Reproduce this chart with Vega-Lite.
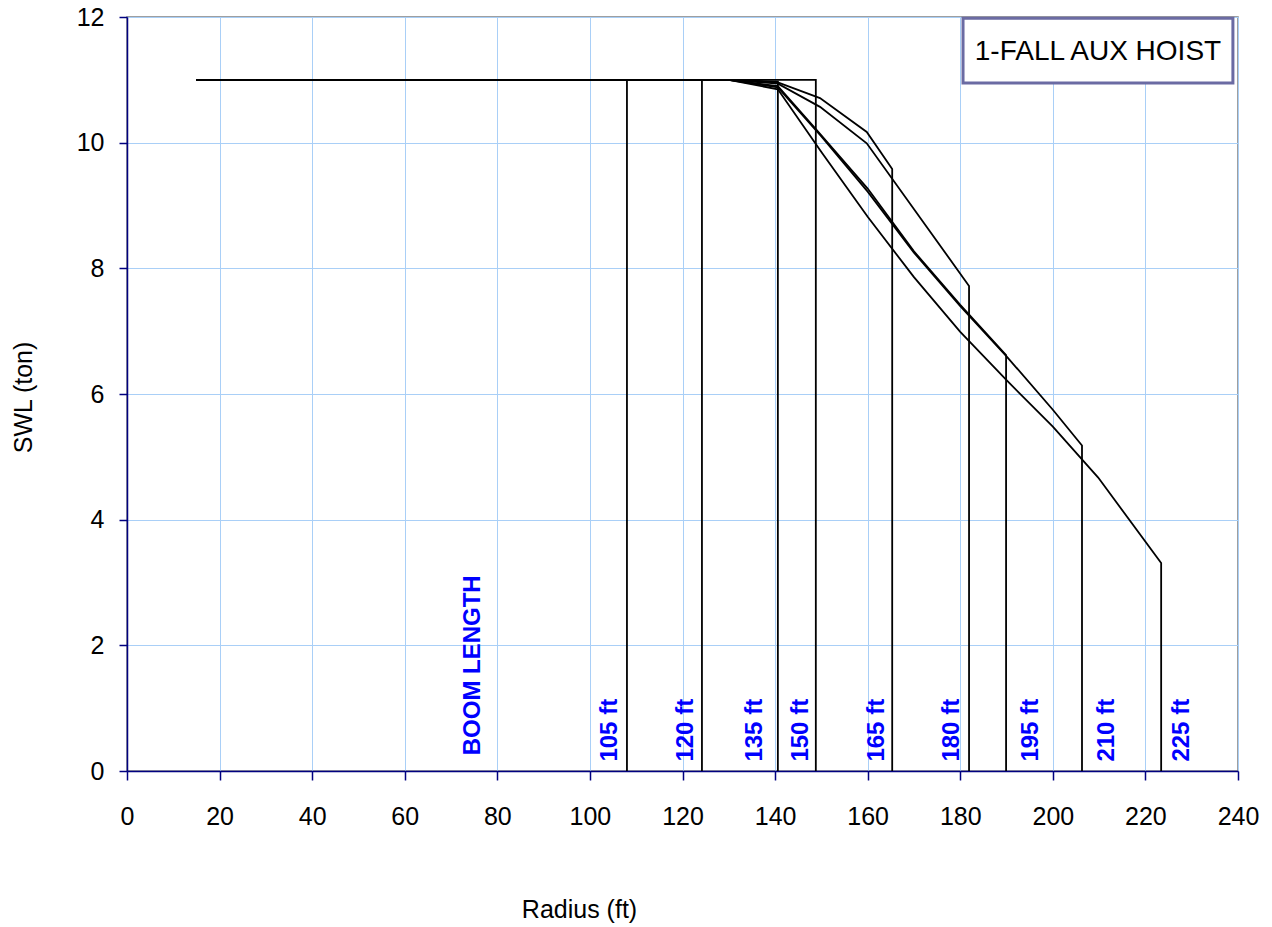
{
  "$schema": "https://vega.github.io/schema/vega-lite/v6.json",
  "autosize": {"type": "none"},
  "width": 1111,
  "height": 754,
  "padding": {"left": 127, "top": 17, "right": 34, "bottom": 156},
  "background": "white",
  "config": {
    "font": "Liberation Sans",
    "view": {"stroke": "#808080", "strokeWidth": 1.5},
    "axis": {
      "domainColor": "#000080",
      "domainWidth": 1.5,
      "tickColor": "#000080",
      "tickWidth": 1.5,
      "gridColor": "#a9cff7",
      "gridWidth": 1,
      "labelFont": "Liberation Sans",
      "labelFontSize": 25,
      "labelColor": "#000000",
      "titleFont": "Liberation Sans",
      "titleFontSize": 25,
      "titleFontWeight": "normal",
      "titleColor": "#000000",
      "labelOverlap": false,
      "labelFlush": false
    }
  },
  "datasets": {
    "curves": [
      {"b": "105", "i": 0, "x": 15, "y": 11}, {"b": "105", "i": 1, "x": 108, "y": 11}, {"b": "105", "i": 2, "x": 108, "y": 0},
      {"b": "120", "i": 0, "x": 15, "y": 11}, {"b": "120", "i": 1, "x": 124.2, "y": 11}, {"b": "120", "i": 2, "x": 124.2, "y": 0},
      {"b": "135", "i": 0, "x": 15, "y": 11}, {"b": "135", "i": 1, "x": 130, "y": 11}, {"b": "135", "i": 2, "x": 140.6, "y": 10.97}, {"b": "135", "i": 3, "x": 140.6, "y": 0},
      {"b": "150", "i": 0, "x": 15, "y": 11}, {"b": "150", "i": 1, "x": 148.8, "y": 11}, {"b": "150", "i": 2, "x": 148.8, "y": 0},
      {"b": "165", "i": 0, "x": 15, "y": 11}, {"b": "165", "i": 1, "x": 130, "y": 11}, {"b": "165", "i": 2, "x": 140.6, "y": 10.96}, {"b": "165", "i": 3, "x": 149.7, "y": 10.71}, {"b": "165", "i": 4, "x": 159.8, "y": 10.17}, {"b": "165", "i": 5, "x": 165.3, "y": 9.58}, {"b": "165", "i": 6, "x": 165.3, "y": 0},
      {"b": "180", "i": 0, "x": 15, "y": 11}, {"b": "180", "i": 1, "x": 130, "y": 11}, {"b": "180", "i": 2, "x": 140.6, "y": 10.94}, {"b": "180", "i": 3, "x": 149.7, "y": 10.57}, {"b": "180", "i": 4, "x": 159.8, "y": 9.99}, {"b": "180", "i": 5, "x": 181.9, "y": 7.72}, {"b": "180", "i": 6, "x": 181.9, "y": 0},
      {"b": "195", "i": 0, "x": 15, "y": 11}, {"b": "195", "i": 1, "x": 130, "y": 11}, {"b": "195", "i": 2, "x": 140.6, "y": 10.9}, {"b": "195", "i": 3, "x": 149, "y": 10.2}, {"b": "195", "i": 4, "x": 160, "y": 9.27}, {"b": "195", "i": 5, "x": 170, "y": 8.27}, {"b": "195", "i": 6, "x": 180, "y": 7.42}, {"b": "195", "i": 7, "x": 189.9, "y": 6.62}, {"b": "195", "i": 8, "x": 189.9, "y": 0},
      {"b": "210", "i": 0, "x": 15, "y": 11}, {"b": "210", "i": 1, "x": 130, "y": 11}, {"b": "210", "i": 2, "x": 140.6, "y": 10.88}, {"b": "210", "i": 3, "x": 150, "y": 10.1}, {"b": "210", "i": 4, "x": 160, "y": 9.22}, {"b": "210", "i": 5, "x": 170, "y": 8.25}, {"b": "210", "i": 6, "x": 180, "y": 7.4}, {"b": "210", "i": 7, "x": 190, "y": 6.6}, {"b": "210", "i": 8, "x": 200, "y": 5.75}, {"b": "210", "i": 9, "x": 206.3, "y": 5.18}, {"b": "210", "i": 10, "x": 206.3, "y": 0},
      {"b": "225", "i": 0, "x": 15, "y": 11}, {"b": "225", "i": 1, "x": 130, "y": 11}, {"b": "225", "i": 2, "x": 140.6, "y": 10.85}, {"b": "225", "i": 3, "x": 150, "y": 9.85}, {"b": "225", "i": 4, "x": 160, "y": 8.82}, {"b": "225", "i": 5, "x": 170, "y": 7.86}, {"b": "225", "i": 6, "x": 180, "y": 6.99}, {"b": "225", "i": 7, "x": 190, "y": 6.22}, {"b": "225", "i": 8, "x": 200, "y": 5.48}, {"b": "225", "i": 9, "x": 209.8, "y": 4.67}, {"b": "225", "i": 10, "x": 223.4, "y": 3.31}, {"b": "225", "i": 11, "x": 223.4, "y": 0}
    ],
    "labels": [
      {"t": "BOOM  LENGTH", "x": 74.8, "y": 0.25},
      {"t": "105 ft", "x": 104.3, "y": 0.15},
      {"t": "120 ft", "x": 120.7, "y": 0.15},
      {"t": "135 ft", "x": 135.7, "y": 0.15},
      {"t": "150 ft", "x": 145.6, "y": 0.15},
      {"t": "165 ft", "x": 162.1, "y": 0.15},
      {"t": "180 ft", "x": 178.3, "y": 0.15},
      {"t": "195 ft", "x": 195.2, "y": 0.15},
      {"t": "210 ft", "x": 211.6, "y": 0.15},
      {"t": "225 ft", "x": 228.0, "y": 0.15}
    ],
    "box": [
      {"t": "1-FALL AUX HOIST", "x1": 180.6, "x2": 238.9, "y1": 10.95, "y2": 11.98, "xc": 209.75, "yc": 11.45}
    ]
  },
  "layer": [
    {
      "data": {"name": "curves"},
      "mark": {"type": "line", "color": "#000000", "strokeWidth": 1.8},
      "encoding": {
        "x": {
          "field": "x", "type": "quantitative",
          "scale": {"domain": [0, 240], "nice": false, "zero": false},
          "axis": {
            "values": [0, 20, 40, 60, 80, 100, 120, 140, 160, 180, 200, 220, 240],
            "format": "d",
            "tickSize": 9,
            "labelPadding": 24,
            "title": "Radius (ft)",
            "titleX": 452,
            "titleY": 138,
            "titleAlign": "center",
            "titleBaseline": "middle"
          }
        },
        "y": {
          "field": "y", "type": "quantitative",
          "scale": {"domain": [0, 12], "nice": false},
          "axis": {
            "values": [0, 2, 4, 6, 8, 10, 12],
            "format": "d",
            "tickSize": 8,
            "labelPadding": 15,
            "title": "SWL (ton)",
            "titleX": -104,
            "titleY": 380,
            "titleAlign": "center",
            "titleBaseline": "middle"
          }
        },
        "detail": {"field": "b", "type": "nominal"},
        "order": {"field": "i", "type": "quantitative"}
      }
    },
    {
      "data": {"name": "labels"},
      "mark": {"type": "text", "angle": 270, "align": "left", "baseline": "middle", "font": "Liberation Sans", "fontWeight": "bold", "fontSize": 24, "color": "#0000ff"},
      "encoding": {
        "x": {"field": "x", "type": "quantitative"},
        "y": {"field": "y", "type": "quantitative"},
        "text": {"field": "t"}
      }
    },
    {
      "data": {"name": "box"},
      "mark": {"type": "rect", "fill": "#ffffff", "stroke": "#6b6ba3", "strokeWidth": 3},
      "encoding": {
        "x": {"field": "x1", "type": "quantitative"},
        "x2": {"field": "x2"},
        "y": {"field": "y1", "type": "quantitative"},
        "y2": {"field": "y2"}
      }
    },
    {
      "data": {"name": "box"},
      "mark": {"type": "text", "align": "center", "baseline": "middle", "font": "Liberation Sans", "fontSize": 28, "color": "#000000"},
      "encoding": {
        "x": {"field": "xc", "type": "quantitative"},
        "y": {"field": "yc", "type": "quantitative"},
        "text": {"field": "t"}
      }
    }
  ]
}
